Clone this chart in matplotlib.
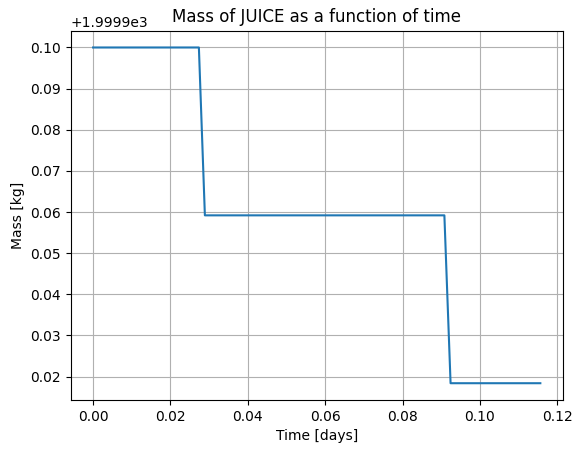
import matplotlib
matplotlib.use("Agg")
import matplotlib.pyplot as plt

time_days = [0.0, 0.02735, 0.0289, 0.0908, 0.0924, 0.1156]
mass_kg = [2000.0, 2000.0, 1999.9592, 1999.9592, 1999.9184, 1999.9184]

fig = plt.figure(figsize=(5.86, 4.53), dpi=100)
ax = fig.add_axes([70.7/586, 1 - 400/453, (562.7-70.7)/586, (400-30.7)/453])
ax.plot(time_days, mass_kg)
ax.set_title("Mass of JUICE as a function of time")
ax.set_xlabel("Time [days]")
ax.set_ylabel("Mass [kg]")
ax.grid(True)
fig.savefig("out.png", dpi=100)
